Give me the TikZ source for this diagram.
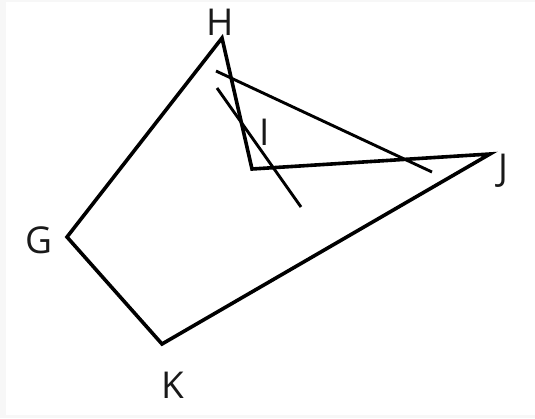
\documentclass[tikz,border=0pt]{standalone}
\usepackage{fontspec}
\setmainfont{Open Sans}
\begin{document}
\begin{tikzpicture}[x=1pt,y=-1pt,
  edge/.style={line width=3.6pt,line join=miter,line cap=butt},
  thin/.style={line width=2.9pt},
  lbl/.style={font=\fontsize{37}{40}\selectfont,inner sep=0pt,text=black!90}]
\fill[black!3] (0,0) rectangle (535,418);
\fill[white] (6,2) rectangle (535,415);
\useasboundingbox (0,0) rectangle (535,418);
\coordinate (H) at (222,38);
\coordinate (G) at (67,237);
\coordinate (K) at (162,344);
\coordinate (J) at (490,154);
\coordinate (I) at (252,169);
\coordinate (a1) at (216,71);
\coordinate (a2) at (432,172);
\coordinate (b1) at (217,88);
\coordinate (b2) at (301,207);
\draw[edge] (I) -- (H) -- (G) -- (K) -- (J) -- cycle;
\draw[thin] (a1) -- (a2);
\draw[thin] (b1) -- (b2);
\node[lbl] (lH) at (220,22) {H};
\node[lbl] (lG) at (39,240) {G};
\node[lbl] (lK) at (173,385) {K};
\node[lbl] (lJ) at (503,171) {J};
\node[lbl] (lI) at (265,132) {I};
\end{tikzpicture}
\end{document}
